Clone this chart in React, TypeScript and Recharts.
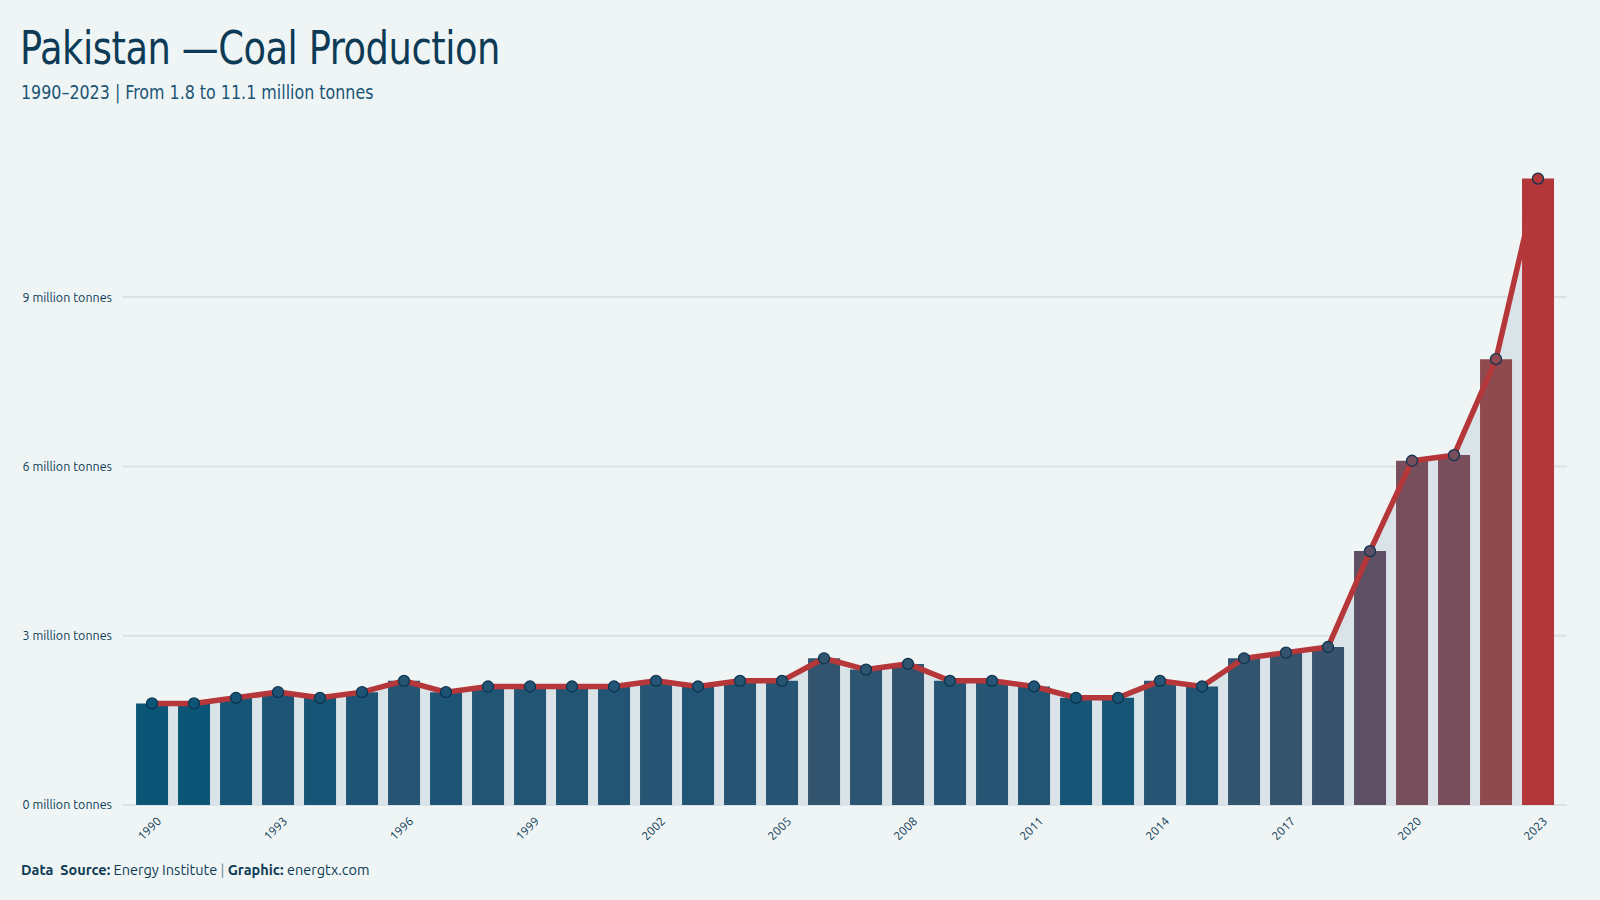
import React from 'react';
import {
    ComposedChart, Bar, Line, Area, XAxis, YAxis, CartesianGrid, Cell
} from 'recharts';

const years = [
    '1990', '1991', '1992', '1993', '1994', '1995', '1996', '1997', '1998', '1999',
    '2000', '2001', '2002', '2003', '2004', '2005', '2006', '2007', '2008', '2009',
    '2010', '2011', '2012', '2013', '2014', '2015', '2016', '2017', '2018', '2019',
    '2020', '2021', '2022', '2023'
];
const production = [
    1.8, 1.8, 1.9, 2.0, 1.9, 2.0, 2.2, 2.0, 2.1, 2.1,
    2.1, 2.1, 2.2, 2.1, 2.2, 2.2, 2.6, 2.4, 2.5, 2.2,
    2.2, 2.1, 1.9, 1.9, 2.2, 2.1, 2.6, 2.7, 2.8, 4.5,
    6.1, 6.2, 7.9, 11.1
];
const yTicks = [0, 3, 6, 9];

const data = years.map((y, i) => ({ year: y, value: production[i] }));

// colour ramp: blue at the low end, red at the top (power scaled)
const stops: [number, number[]][] = [
    [0, [11, 85, 119]],
    [0.15, [36, 84, 116]],
    [0.24, [51, 84, 111]],
    [0.476, [91, 80, 102]],
    [0.66, [122, 78, 91]],
    [0.78, [142, 74, 79]],
    [1, [179, 55, 57]],
];
const minV = Math.min(...production);
const maxV = Math.max(...production);
function colorFor(v: number) {
    const t = Math.pow((v - minV) / (maxV - minV), 0.58);
    for (let i = 1; i < stops.length; i++) {
        if (t <= stops[i][0]) {
            const [t0, c0] = stops[i - 1];
            const [t1, c1] = stops[i];
            const k = (t - t0) / (t1 - t0);
            const c = c0.map((a, j) => Math.round(a + (c1[j] - a) * k));
            return `rgb(${c[0]},${c[1]},${c[2]})`;
        }
    }
    return 'rgb(179,55,57)';
}

const axisFont = 'Ubuntu, "Noto Sans", sans-serif';
const titleFont = '"Ubuntu Condensed", "DejaVu Sans", sans-serif';

const XTick = (props: any) => {
    const { x, y, payload } = props;
    return (
        <g transform={`translate(${x + 7},${y + 6})`}>
            <text transform="rotate(-45)" textAnchor="end" dy="0.35em" fontSize={12} fill="#0d3a55" fontFamily={axisFont}>
                {payload.value}
            </text>
        </g>
    );
};

const Dot = (props: any) => {
    const { cx, cy, payload } = props;
    return <circle cx={cx} cy={cy} r={5.5} fill={colorFor(payload.value)} stroke="#0d3550" strokeWidth={1.3} />;
};

export default function App() {
    return (
        <div style={{ position: 'fixed', left: 0, top: 0, width: 1600, height: 900, background: '#eff5f5', overflow: 'hidden' }}>
            <div style={{
                position: 'absolute', left: 20, top: 19, fontFamily: titleFont, fontStretch: 'condensed',
                fontSize: 46, color: '#0d3a55', lineHeight: '58px', letterSpacing: -0.5,
                whiteSpace: 'nowrap', transform: 'scaleX(0.89)', transformOrigin: 'left center'
            }}>
                Pakistan —Coal Production
            </div>
            <div style={{
                position: 'absolute', left: 21, top: 79, fontFamily: titleFont, fontStretch: 'condensed',
                fontSize: 19, color: '#1b5575', lineHeight: '26px',
                whiteSpace: 'nowrap', transform: 'scaleX(0.93)', transformOrigin: 'left center'
            }}>
                1990–2023 | From 1.8 to 11.1 million tonnes
            </div>

            <div style={{ position: 'absolute', left: 0, top: 0 }}>
                <ComposedChart width={1600} height={900} data={data}
                    margin={{ top: 147, right: 33, bottom: 55, left: 0 }}
                    barCategoryGap="12%">
                    <CartesianGrid vertical={false} horizontalValues={yTicks} stroke="#d9e2e6" strokeWidth={2} />
                    <XAxis dataKey="year" interval={2} tick={<XTick />} tickLine={false}
                        axisLine={false} height={40} padding={{ left: 8, right: 8 }} />
                    <YAxis width={123} domain={[0, 11.66]} ticks={yTicks} tickLine={false} axisLine={false}
                        tickSize={0} tickMargin={11}
                        tickFormatter={(v: number) => `${v} million tonnes`}
                        tick={{ fontSize: 12.5, fill: '#0d3a55', fontFamily: axisFont }} />
                    <Area type="linear" dataKey="value" stroke="none" fill="#d9e3e8" fillOpacity={1} isAnimationActive={false} />
                    <Bar dataKey="value" isAnimationActive={false}>
                        {data.map((d, i) => <Cell key={i} fill={colorFor(d.value)} />)}
                    </Bar>
                    <Line type="linear" dataKey="value" stroke="#b5373a" strokeWidth={5.5} dot={<Dot />}
                        activeDot={false} isAnimationActive={false} />
                </ComposedChart>
            </div>

            <div style={{ position: 'absolute', left: 21, top: 861, fontFamily: axisFont, fontSize: 14.5, color: '#0d3a55' }}>
                <b>Data&nbsp; Source:</b> Energy Institute <span style={{ color: '#6a8799' }}>|</span> <b>Graphic:</b> energtx.com
            </div>
        </div>
    );
}
